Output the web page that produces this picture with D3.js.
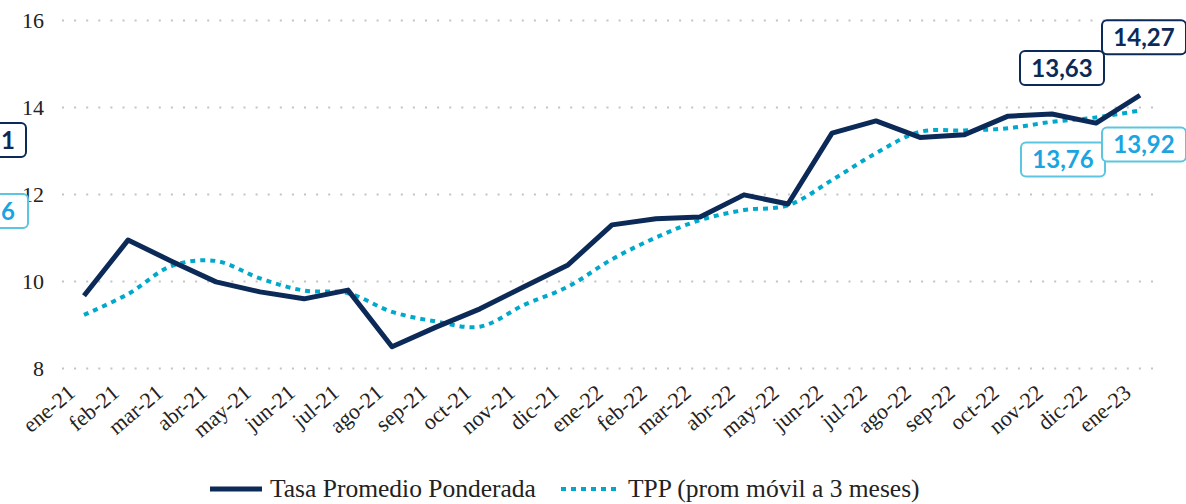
<!DOCTYPE html>
<html>
<head>
<meta charset="utf-8">
<script src="https://cdn.jsdelivr.net/npm/d3@7"></script>
<style>
  body { margin: 0; background: #fff; }
  svg { display: block; }
  .serif { font-family: "Liberation Serif", Tinos, "DejaVu Serif", serif; }
</style>
</head>
<body>
<svg id="chart" width="1186" height="504"></svg>
<script>
// months on the x axis
const months = ["ene-21","feb-21","mar-21","abr-21","may-21","jun-21","jul-21","ago-21","sep-21","oct-21","nov-21","dic-21",
  "ene-22","feb-22","mar-22","abr-22","may-22","jun-22","jul-22","ago-22","sep-22","oct-22","nov-22","dic-22","ene-23"];
// Tasa Promedio Ponderada
const tasa = [9.66,10.94,10.45,9.98,9.75,9.59,9.79,8.49,8.94,9.36,9.87,10.37,
  11.29,11.43,11.47,11.98,11.77,13.40,13.68,13.30,13.36,13.79,13.84,13.63,14.27];
// TPP (prom movil a 3 meses)
const tpp = [9.22,9.70,10.35,10.46,10.06,9.78,9.72,9.29,9.07,8.95,9.45,9.87,
  10.50,11.00,11.40,11.63,11.74,12.32,12.94,13.43,13.46,13.51,13.66,13.76,13.92];
const yTicks = [8,10,12,14,16];
const legendNames = ["Tasa Promedio Ponderada", "TPP (prom móvil a 3 meses)"];
// data labels (month, text, series)
const labelMonths = ["dic-22","ene-23","dic-22","ene-23"];
const labelTexts = ["13,63","14,27","13,76","13,92"];
const labelSeries = ["tasa","tasa","tpp","tpp"];
// labels cut by the left edge: only the last character shows
const edgeTexts = ["1","6"];
const edgeSeries = ["tasa","tpp"];

const navy = "#0c2a57", cyan = "#00a9cc";
const lblCyanText = "#1aa5e2", lblCyanStroke = "#5cc6e0";

const svg = d3.select("#chart");
const plot = { l: 62, r: 1162, t: 20, b: 368 };

const x = d3.scalePoint().domain(months).range([plot.l, plot.r]).padding(0.5);
const y = d3.scaleLinear().domain([8, 16]).range([plot.b, plot.t]);

// gridlines
svg.append("g")
  .attr("transform", `translate(${plot.l},0)`)
  .call(d3.axisLeft(y).tickValues(yTicks).tickSize(-(plot.r - plot.l - 6)).tickFormat(""))
  .call(g => g.select(".domain").remove())
  .call(g => g.selectAll("line")
    .attr("stroke", "#c4c4c4").attr("stroke-width", 2).attr("stroke-dasharray", "2,10.1"));

// y labels
svg.append("g")
  .attr("transform", `translate(44,0)`)
  .call(d3.axisLeft(y).tickValues(yTicks).tickSize(0).tickPadding(0))
  .call(g => g.select(".domain").remove())
  .call(g => g.attr("font-family", null).attr("font-size", null))
  .call(g => g.selectAll("text").attr("class", "serif")
    .style("font-size", "22px").attr("fill", "#222"));

// x labels
svg.append("g")
  .attr("transform", `translate(0,${plot.b})`)
  .call(d3.axisBottom(x).tickSize(0))
  .call(g => g.select(".domain").remove())
  .call(g => g.attr("font-family", null).attr("font-size", null))
  .call(g => g.selectAll("text").attr("class", "serif")
    .style("font-size", "22px").attr("fill", "#222")
    .attr("text-anchor", "end")
    .attr("dy", 0).attr("y", 0)
    .attr("transform", "translate(-8,27) rotate(-40)"));

// lines
const lineTasa = d3.line().x((d, i) => x(months[i])).y(d => y(d));
const lineTpp = d3.line().x((d, i) => x(months[i])).y(d => y(d)).curve(d3.curveCatmullRom.alpha(0.5));

svg.append("path").datum(tpp)
  .attr("d", lineTpp).attr("fill", "none")
  .attr("stroke", cyan).attr("stroke-width", 4)
  .attr("stroke-dasharray", "5,5");

svg.append("path").datum(tasa)
  .attr("d", lineTasa).attr("fill", "none")
  .attr("stroke", navy).attr("stroke-width", 5)
  .attr("stroke-linejoin", "round");

// data label boxes
const boxW = 84, boxH = 34;
function labelBox(cx, cy, txt, series, anchorX) {
  const dark = series === "tasa";
  const g = svg.append("g").attr("transform", `translate(${cx},${cy})`);
  g.append("rect")
    .attr("x", -boxW / 2).attr("y", -boxH / 2)
    .attr("width", boxW).attr("height", boxH)
    .attr("rx", 5).attr("fill", "#fff")
    .attr("stroke", dark ? navy : lblCyanStroke).attr("stroke-width", 2);
  g.append("text")
    .attr("x", anchorX == null ? 0 : anchorX)
    .attr("text-anchor", anchorX == null ? "middle" : "end").attr("dy", "0.36em")
    .attr("font-family", "Lato, Noto Sans, sans-serif").attr("font-weight", 700)
    .attr("font-size", 24)
    .attr("fill", dark ? navy : lblCyanText)
    .text(txt);
}
const offsets = { "dic-22|tasa": [-34, -55], "ene-23|tasa": [4, -58], "dic-22|tpp": [-33, 42], "ene-23|tpp": [4, 34] };
labelMonths.forEach((m, i) => {
  const vals = labelSeries[i] === "tasa" ? tasa : tpp;
  const v = vals[months.indexOf(m)];
  const o = offsets[m + "|" + labelSeries[i]];
  labelBox(x(m) + o[0], y(v) + o[1], labelTexts[i], labelSeries[i]);
});
labelBox(-16, 140, edgeTexts[0], edgeSeries[0], 31);
labelBox(-14, 211, edgeTexts[1], edgeSeries[1], 29);

// legend
const lg = svg.append("g").attr("transform", "translate(0,489)");
lg.append("line").attr("x1", 210).attr("x2", 262).attr("stroke", navy).attr("stroke-width", 5);
lg.append("text").attr("class", "serif").attr("x", 270).attr("dy", "0.31em")
  .style("font-size", "25.5px").attr("fill", "#222")
  .text(legendNames[0]);
lg.append("line").attr("x1", 561).attr("x2", 620).attr("stroke", cyan).attr("stroke-width", 4).attr("stroke-dasharray", "5,5");
lg.append("text").attr("class", "serif").attr("x", 628).attr("dy", "0.31em")
  .style("font-size", "25.5px").attr("fill", "#222")
  .text(legendNames[1]);
</script>
</body>
</html>
